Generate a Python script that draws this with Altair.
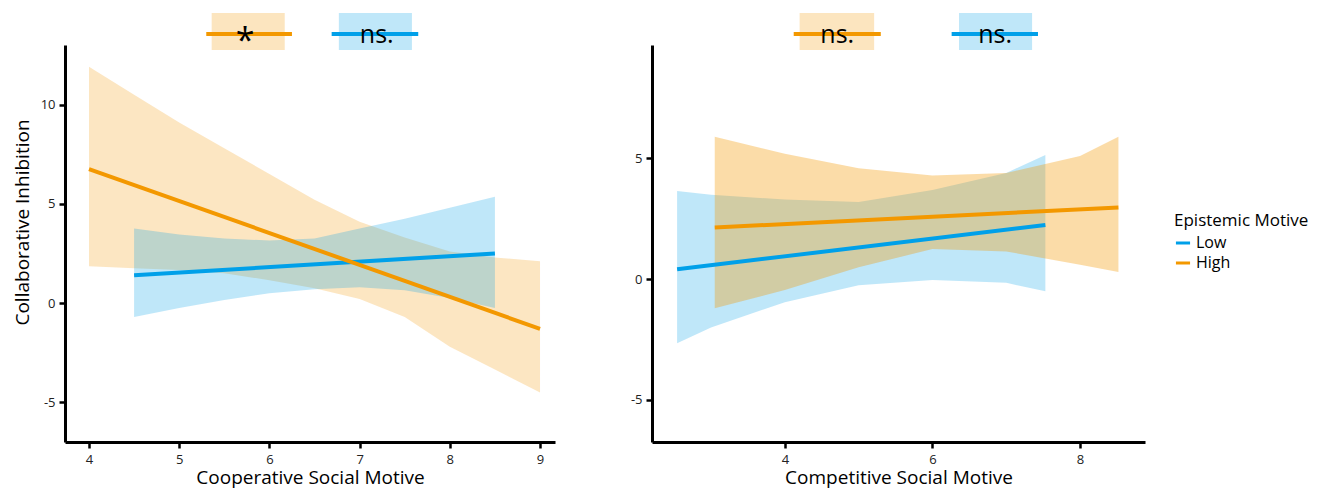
import altair as alt
import pandas as pd

# ---------------- data ----------------
groups = ["Low", "High"]

# Panel 1: Cooperative Social Motive
coop_high_x = [4, 4.5, 5, 5.5, 6, 6.5, 7, 7.5, 8, 8.5, 9]
coop_high_upper = [11.9, 10.5, 9.1, 7.8, 6.5, 5.2, 4.1, 3.3, 2.6, 2.3, 2.1]
coop_high_lower = [1.85, 1.75, 1.67, 1.5, 1.15, 0.75, 0.2, -0.7, -2.2, -3.35, -4.5]
coop_high_line_x = [4, 9]
coop_high_line_y = [6.75, -1.3]

coop_low_x = [4.5, 5, 5.5, 6, 6.5, 7, 7.5, 8, 8.5]
coop_low_upper = [3.75, 3.45, 3.25, 3.15, 3.25, 3.75, 4.25, 4.8, 5.35]
coop_low_lower = [-0.7, -0.25, 0.15, 0.5, 0.7, 0.8, 0.65, 0.25, -0.25]
coop_low_line_x = [4.5, 8.5]
coop_low_line_y = [1.4, 2.5]

# Panel 2: Competitive Social Motive
comp_high_x = [3.05, 4, 5, 6, 7, 8, 8.52]
comp_high_upper = [5.9, 5.2, 4.6, 4.3, 4.4, 5.1, 5.9]
comp_high_lower = [-1.2, -0.45, 0.5, 1.25, 1.15, 0.6, 0.3]
comp_high_line_x = [3.05, 8.52]
comp_high_line_y = [2.14, 2.97]

comp_low_x = [2.54, 3, 4, 5, 6, 7, 7.53]
comp_low_upper = [3.65, 3.5, 3.3, 3.2, 3.7, 4.4, 5.15]
comp_low_lower = [-2.65, -2.0, -0.95, -0.25, -0.03, -0.15, -0.5]
comp_low_line_x = [2.54, 7.53]
comp_low_line_y = [0.41, 2.25]

# significance annotations (group, label, left, right, center) in x data units
coop_ann_group = ["High", "Low"]
coop_ann_label = ["*", "ns."]
coop_ann_x1 = [5.36, 6.77]
coop_ann_x2 = [6.17, 7.58]
coop_ann_l1 = [5.30, 6.69]
coop_ann_l2 = [6.25, 7.65]
coop_ann_c = [5.73, 7.19]

comp_ann_group = ["High", "Low"]
comp_ann_label = ["ns.", "ns."]
comp_ann_x1 = [4.20, 6.36]
comp_ann_x2 = [5.21, 7.35]
comp_ann_l1 = [4.12, 6.26]
comp_ann_l2 = [5.30, 7.43]
comp_ann_c = [4.71, 6.85]

# ---------------- style ----------------
ORANGE = "#F39800"
BLUE = "#00A0E9"
FONT = "Open Sans"

color_scale = alt.Scale(domain=groups, range=[BLUE, ORANGE])
LABEL_EXPR = "replace(toString(datum.value), '\u2212', '-')"
LEGEND = alt.Legend(
    title="Epistemic Motive", symbolType="stroke", symbolSize=200, symbolStrokeWidth=3,
    symbolOpacity=1, orient="none", legendX=1109, legendY=168,
)


def col():
    return alt.Color("group:N", scale=color_scale, legend=LEGEND, title="Epistemic Motive")


def band_df(xs, up, lo, g):
    return pd.DataFrame({"x": xs, "upper": up, "lower": lo, "group": g})


def line_df(xs, ys, g):
    return pd.DataFrame({"x": xs, "y": ys, "group": g})


def panel(bands, lines, ann, xdom, ydom, xticks, yticks, xtitle, ytitle, width, band_opacity):
    xs = alt.Scale(domain=xdom, nice=False, zero=False)
    ys = alt.Scale(domain=ydom, nice=False, zero=False)
    xaxis = alt.Axis(values=xticks, title=xtitle, grid=False, labelExpr=LABEL_EXPR)
    if ytitle:
        yaxis = alt.Axis(values=yticks, title=ytitle, grid=False, labelExpr=LABEL_EXPR, titleY=177)
    else:
        yaxis = alt.Axis(values=yticks, title=None, grid=False, labelExpr=LABEL_EXPR)

    layers = []
    for df, op in zip(bands, band_opacity):
        layers.append(
            alt.Chart(df).mark_area(opacity=op).encode(
                x=alt.X("x:Q", scale=xs, axis=xaxis),
                y=alt.Y("lower:Q", scale=ys, axis=yaxis),
                y2="upper:Q",
                color=col(),
            )
        )
    for df in lines:
        layers.append(
            alt.Chart(df).mark_line(strokeWidth=4, strokeCap="butt").encode(
                x="x:Q", y="y:Q", color=col(),
            )
        )
    layers.append(
        alt.Chart(ann).mark_rect(opacity=0.25).encode(
            x="x1:Q", x2="x2:Q", y=alt.value(-32), y2=alt.value(5), color=col(),
        )
    )
    layers.append(
        alt.Chart(ann).mark_rule(strokeWidth=4).encode(
            x="l1:Q", x2="l2:Q", y=alt.value(-11), color=col(),
        )
    )
    star = ann[ann["label"] == "*"]
    ns = ann[ann["label"] != "*"]
    if len(star):
        layers.append(
            alt.Chart(star).mark_text(fontSize=34, font=FONT, baseline="middle", dy=8, color="black").encode(
                x="c:Q", y=alt.value(-11), text="label:N"
            )
        )
    if len(ns):
        layers.append(
            alt.Chart(ns).mark_text(fontSize=25, font=FONT, baseline="middle", dy=1, color="black").encode(
                x="c:Q", y=alt.value(-11), text="label:N"
            )
        )
    return alt.layer(*layers).properties(width=width, height=397)


coop_ann = pd.DataFrame({"group": coop_ann_group, "label": coop_ann_label, "x1": coop_ann_x1,
                         "x2": coop_ann_x2, "l1": coop_ann_l1, "l2": coop_ann_l2, "c": coop_ann_c})
comp_ann = pd.DataFrame({"group": comp_ann_group, "label": comp_ann_label, "x1": comp_ann_x1,
                         "x2": comp_ann_x2, "l1": comp_ann_l1, "l2": comp_ann_l2, "c": comp_ann_c})

left = panel(
    bands=[band_df(coop_high_x, coop_high_upper, coop_high_lower, "High"),
           band_df(coop_low_x, coop_low_upper, coop_low_lower, "Low")],
    lines=[line_df(coop_low_line_x, coop_low_line_y, "Low"),
           line_df(coop_high_line_x, coop_high_line_y, "High")],
    ann=coop_ann,
    xdom=[3.734, 9.166], ydom=[-7, 13],
    xticks=[4, 5, 6, 7, 8, 9], yticks=[-5, 0, 5, 10],
    xtitle="Cooperative Social Motive", ytitle="Collaborative Inhibition",
    width=490, band_opacity=[0.24, 0.25],
)

right = panel(
    bands=[band_df(comp_low_x, comp_low_upper, comp_low_lower, "Low"),
           band_df(comp_high_x, comp_high_upper, comp_high_lower, "High")],
    lines=[line_df(comp_high_line_x, comp_high_line_y, "High"),
           line_df(comp_low_line_x, comp_low_line_y, "Low")],
    ann=comp_ann,
    xdom=[2.2, 8.88], ydom=[-6.74, 9.7],
    xticks=[4, 6, 8], yticks=[-5, 0, 5],
    xtitle="Competitive Social Motive", ytitle=None,
    width=493, band_opacity=[0.25, 0.34],
)

chart = (
    alt.hconcat(left, right, spacing=75)
    .resolve_scale(x="independent", y="independent", color="shared")
    .configure_view(stroke=None)
    .configure_axis(
        domainColor="black", domainWidth=3, tickColor="black", tickWidth=2.5, tickSize=6,
        labelFont=FONT, labelFontSize=13, labelColor="#222222",
        titleFont=FONT, titleFontWeight="normal", titleColor="black",
    )
    .configure_axisX(titleFontSize=19, titlePadding=2, labelPadding=5)
    .configure_axisY(titleFontSize=19, titlePadding=8, labelPadding=4)
    .configure_legend(
        titleFont=FONT, titleFontSize=17, titleFontWeight="normal", titleColor="black",
        labelFont=FONT, labelFontSize=16, labelColor="black", rowPadding=3, titlePadding=4,
    )
)

chart.save("out.html", embed_options={"renderer": "svg", "actions": False})
